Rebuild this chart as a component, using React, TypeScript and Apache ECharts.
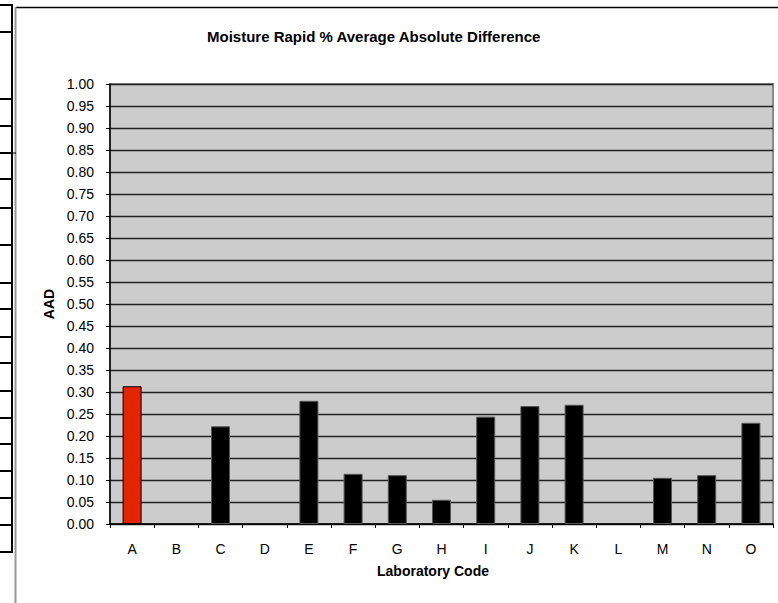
import React, { useEffect, useRef } from "react";
import * as echarts from "echarts";

const categories = ["A", "B", "C", "D", "E", "F", "G", "H", "I", "J", "K", "L", "M", "N", "O"];
const aadValues: (number | null)[] = [0.313, null, 0.222, null, 0.28, 0.114, 0.111, 0.055, 0.244, 0.268, 0.271, null, 0.105, 0.111, 0.23];
const highlightIndex = 0;
const tableRowYs = [5, 32, 99, 126, 153, 179, 208, 245, 283, 309, 337, 363, 391, 418, 444, 471, 498, 525, 552];

const FONT = "'Liberation Sans', Arial, sans-serif";

export default function App() {
  const ref = useRef<HTMLDivElement>(null);
  useEffect(() => {
    document.body.style.margin = "0";
    const chart = echarts.init(ref.current!, null, { renderer: "svg" });
    const graphics: any[] = [
      { type: "line", shape: { x1: 16, y1: 7.5, x2: 778, y2: 7.5 }, style: { stroke: "#000", lineWidth: 1.5 } },
      { type: "line", shape: { x1: 15.5, y1: 7, x2: 15.5, y2: 603 }, style: { stroke: "#999", lineWidth: 2 } },
      { type: "line", shape: { x1: 12, y1: 5, x2: 12, y2: 553 }, style: { stroke: "#000", lineWidth: 2 } },
      { type: "line", shape: { x1: 12, y1: 153, x2: 16, y2: 153 }, style: { stroke: "#000", lineWidth: 1 } },
    ];
    tableRowYs.forEach((y) => {
      graphics.push({ type: "line", shape: { x1: 0, y1: y, x2: 13, y2: y }, style: { stroke: "#000", lineWidth: 2 } });
    });
    chart.setOption({
      animation: false,
      backgroundColor: "#fff",
      textStyle: { fontFamily: FONT },
      title: {
        text: "Moisture Rapid % Average Absolute Difference",
        left: 202,
        top: 24,
        textStyle: { fontSize: 15, fontWeight: "bold", color: "#000", fontFamily: FONT },
      },
      graphic: graphics,
      grid: {
        left: 110,
        top: 84,
        width: 663,
        height: 440,
        show: true,
        backgroundColor: "#cccccc",
        borderColor: "#888",
        borderWidth: 2,
      },
      xAxis: {
        type: "category",
        data: categories,
        boundaryGap: true,
        name: "Laboratory Code",
        nameLocation: "middle",
        nameGap: 40,
        nameTextStyle: { fontSize: 14, fontWeight: "bold", color: "#000", fontFamily: FONT, padding: [0, 17, 0, 0] },
        axisLine: { lineStyle: { color: "#000", width: 1.5 } },
        axisTick: { show: true, length: 4, lineStyle: { color: "#000" }, interval: 0 },
        axisLabel: { interval: 0, margin: 18, fontSize: 14, color: "#000", fontFamily: FONT },
        splitLine: { show: false },
      },
      yAxis: {
        type: "value",
        min: 0,
        max: 1,
        interval: 0.05,
        name: "AAD",
        nameLocation: "middle",
        nameGap: 45,
        nameTextStyle: { fontSize: 14, fontWeight: "bold", color: "#000", fontFamily: FONT },
        axisLine: { show: true, lineStyle: { color: "#000", width: 1.5 } },
        axisTick: { show: true, length: 4, lineStyle: { color: "#000" } },
        axisLabel: {
          margin: 16,
          fontSize: 14,
          color: "#000",
          fontFamily: FONT,
          formatter: (v: number) => v.toFixed(2),
        },
        splitLine: { show: true, lineStyle: { color: "#222", width: 1.3 } },
      },
      series: [
        {
          type: "bar",
          barWidth: 19,
          data: aadValues.map((v, i) =>
            i === highlightIndex
              ? { value: v, itemStyle: { color: "#e32400", borderColor: "#000", borderWidth: 1 } }
              : v
          ),
          itemStyle: { color: "#000", borderColor: "#555", borderWidth: 1 },
        },
      ],
    });
    return () => chart.dispose();
  }, []);
  return <div ref={ref} style={{ width: 778, height: 603 }} />;
}
